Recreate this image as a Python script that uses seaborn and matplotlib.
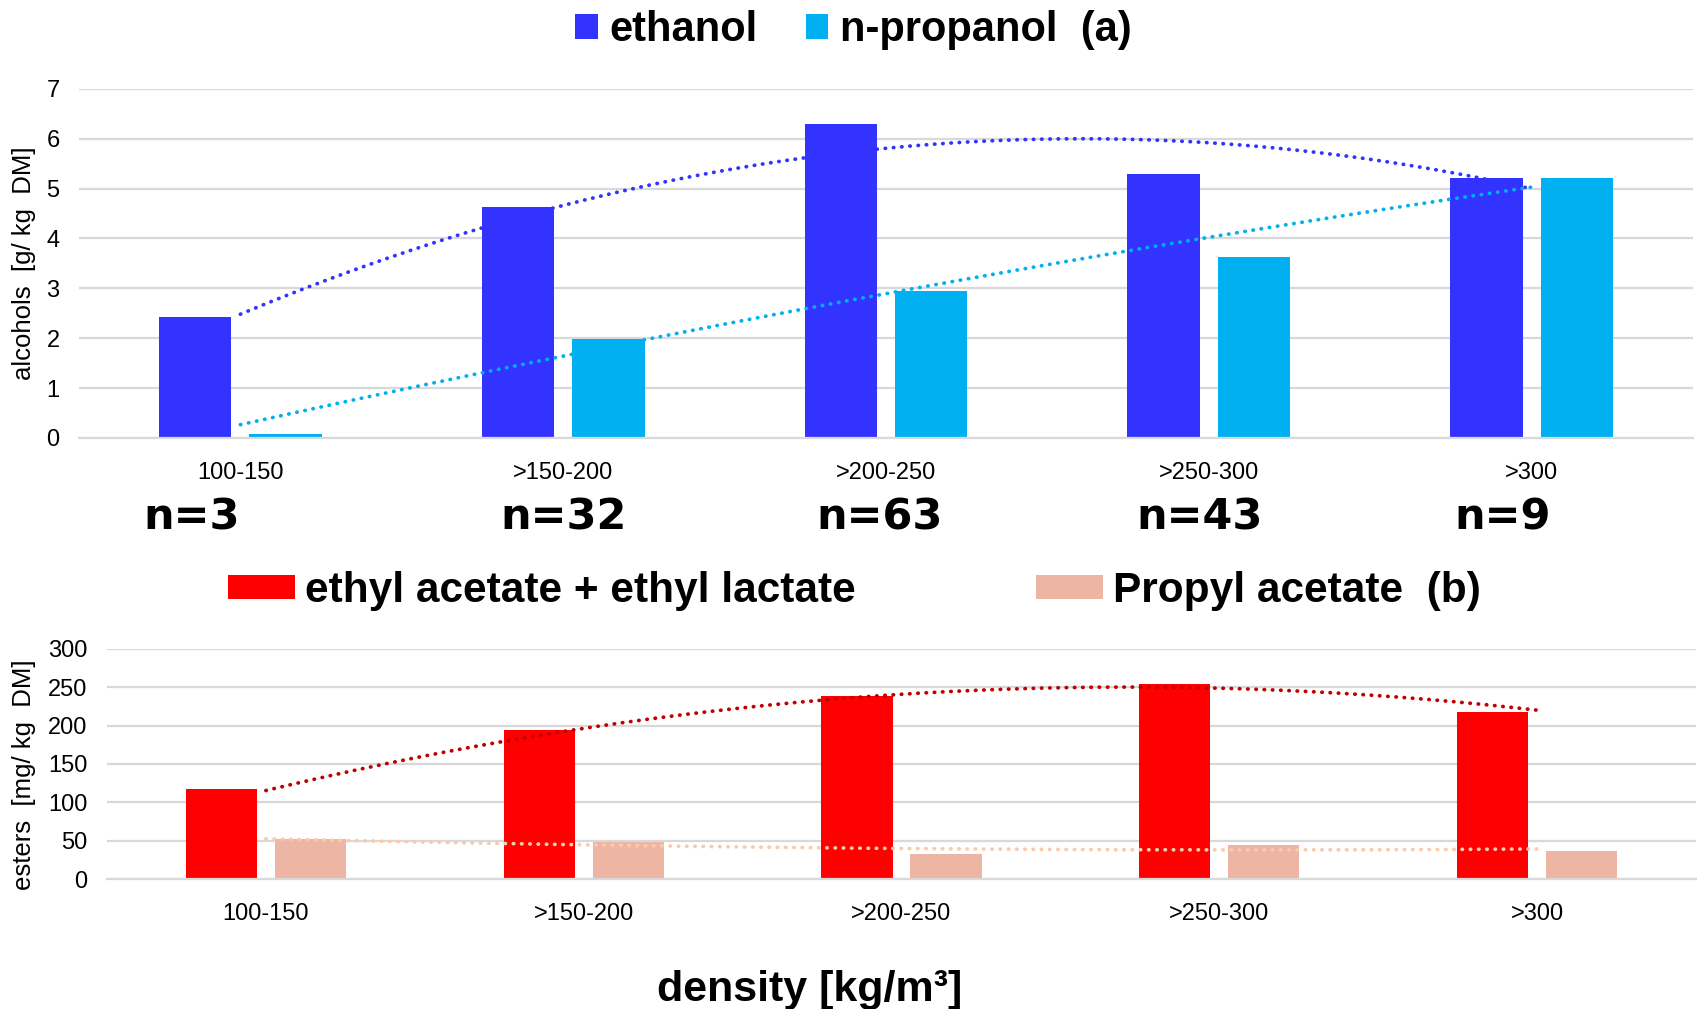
import numpy as np
import pandas as pd
import matplotlib
matplotlib.use("Agg")
import matplotlib.pyplot as plt
from matplotlib.patches import Patch
from matplotlib.transforms import blended_transform_factory
import seaborn as sns

# ---------------- data ----------------
categories = ["100-150", ">150-200", ">200-250", ">250-300", ">300"]
n_counts = [3, 32, 63, 43, 9]

ethanol = [2.42, 4.62, 6.30, 5.30, 5.22]
n_propanol = [0.09, 1.98, 2.94, 3.62, 5.22]

ethyl_ac_lac = [117, 194, 239, 254, 218]
propyl_acetate = [52, 48, 32, 45, 37]

alc_names = ["ethanol", "n-propanol  (a)"]
est_names = ["ethyl acetate + ethyl lactate", "Propyl acetate  (b)"]

alc_ticks = [0, 1, 2, 3, 4, 5, 6, 7]
est_ticks = [0, 50, 100, 150, 200, 250, 300]

# ---------------- style ----------------
bar_colors = {"ethanol": "#3333FF", "n-propanol  (a)": "#00B0F0",
              "ethyl acetate + ethyl lactate": "#FF0000",
              "Propyl acetate  (b)": "#EDB5A4"}
trend_colors = {"ethanol": "#3333FF", "n-propanol  (a)": "#00B0F0",
                "ethyl acetate + ethyl lactate": "#C00000",
                "Propyl acetate  (b)": "#F8CBAD"}
grid_c = "#D9D9D9"
FONT = ["Liberation Sans", "DejaVu Sans"]

sns.set_theme(style="white")
plt.rcParams["font.family"] = FONT
plt.rcParams["text.color"] = "black"
plt.rcParams["axes.labelcolor"] = "black"
plt.rcParams["xtick.color"] = "black"
plt.rcParams["ytick.color"] = "black"

W, H = 1697, 1009
fig = plt.figure(figsize=(W / 100, H / 100), dpi=100)

ax1 = fig.add_axes([79 / W, 1 - 438 / H, (1693 - 79) / W, (438 - 88.7) / H])
ax2 = fig.add_axes([107 / W, 1 - 879 / H, (1696 - 107) / W, (879 - 649) / H])

df_alc = pd.DataFrame({
    "density": categories * 2,
    "value": ethanol + n_propanol,
    "series": [alc_names[0]] * 5 + [alc_names[1]] * 5,
})
df_est = pd.DataFrame({
    "density": categories * 2,
    "value": ethyl_ac_lac + propyl_acetate,
    "series": [est_names[0]] * 5 + [est_names[1]] * 5,
})


def draw(ax, df, names, series_vals, ylim, ticks):
    sns.barplot(data=df, x="density", y="value", hue="series",
                order=categories, hue_order=names, palette=bar_colors,
                width=0.56, gap=0.2, saturation=1, legend=False, ax=ax,
                edgecolor="none", zorder=2)
    xs = np.arange(len(categories))
    xx = np.linspace(xs[0], xs[-1], 300)
    for name, vals in zip(names, series_vals):
        coef = np.polyfit(xs, vals, 2)
        ax.plot(xx, np.polyval(coef, xx), color=trend_colors[name],
                lw=2.7, linestyle=(0, (0.1, 2.1)), dash_capstyle="round",
                zorder=4)
    ax.set_xlim(-0.5, len(categories) - 0.5)
    ax.set_ylim(*ylim)
    ax.set_yticks(ticks)
    ax.yaxis.grid(True, color=grid_c, lw=1.6, zorder=0)
    ax.set_axisbelow(True)
    for s in ["top", "right", "left"]:
        ax.spines[s].set_visible(False)
    ax.spines["bottom"].set_color(grid_c)
    ax.spines["bottom"].set_linewidth(1.6)
    ax.tick_params(axis="both", length=0, labelsize=17, colors="black")
    ax.tick_params(axis="x", pad=17)
    ax.tick_params(axis="y", pad=14)
    ax.set_xlabel("")
    ax.set_ylabel("")


draw(ax1, df_alc, alc_names, [ethanol, n_propanol], (0, 7), alc_ticks)
draw(ax2, df_est, est_names, [ethyl_ac_lac, propyl_acetate], (0, 300), est_ticks)

# legends
h1 = [Patch(facecolor=bar_colors[n], edgecolor="none") for n in alc_names]
fig.legend(h1, alc_names, loc="center", bbox_to_anchor=(0.503, 1 - 30 / H),
           ncol=2, frameon=False, handlelength=0.53, handleheight=0.53,
           handletextpad=0.29, columnspacing=1.15, borderpad=0,
           prop={"family": FONT, "weight": "bold", "size": 30})

h2 = [Patch(facecolor=bar_colors[n], edgecolor="none") for n in est_names]
fig.legend(h2, est_names, loc="center", bbox_to_anchor=(0.5035, 1 - 591 / H),
           ncol=2, frameon=False, handlelength=1.58, handleheight=0.53,
           handletextpad=0.22, columnspacing=4.27, borderpad=0,
           prop={"family": FONT, "weight": "bold", "size": 30.5})

# n labels
n_label_dx = [-0.15, 0.0, -0.02, -0.03, -0.09]
tr = blended_transform_factory(ax1.transData, fig.transFigure)
for i, (n, dx) in enumerate(zip(n_counts, n_label_dx)):
    fig.text(i + dx, 1 - 517 / H, f"n={n}", transform=tr, ha="center",
             va="center", fontsize=31, fontweight="bold",
             family=["DejaVu Sans"], color="black")

# axis titles
fig.text(24 / W, 1 - 263 / H, "alcohols  [g/ kg  DM]", rotation=90,
         ha="center", va="center", fontsize=18.5, color="black")
fig.text(24 / W, 1 - 775 / H, "esters  [mg/ kg  DM]", rotation=90,
         ha="center", va="center", fontsize=18.5, color="black")
fig.text(810 / W, 1 - 990 / H, "density [kg/m³]", ha="center", va="center",
         fontsize=31, fontweight="bold", color="black")

fig.savefig("out.png", dpi=100, facecolor="white")
